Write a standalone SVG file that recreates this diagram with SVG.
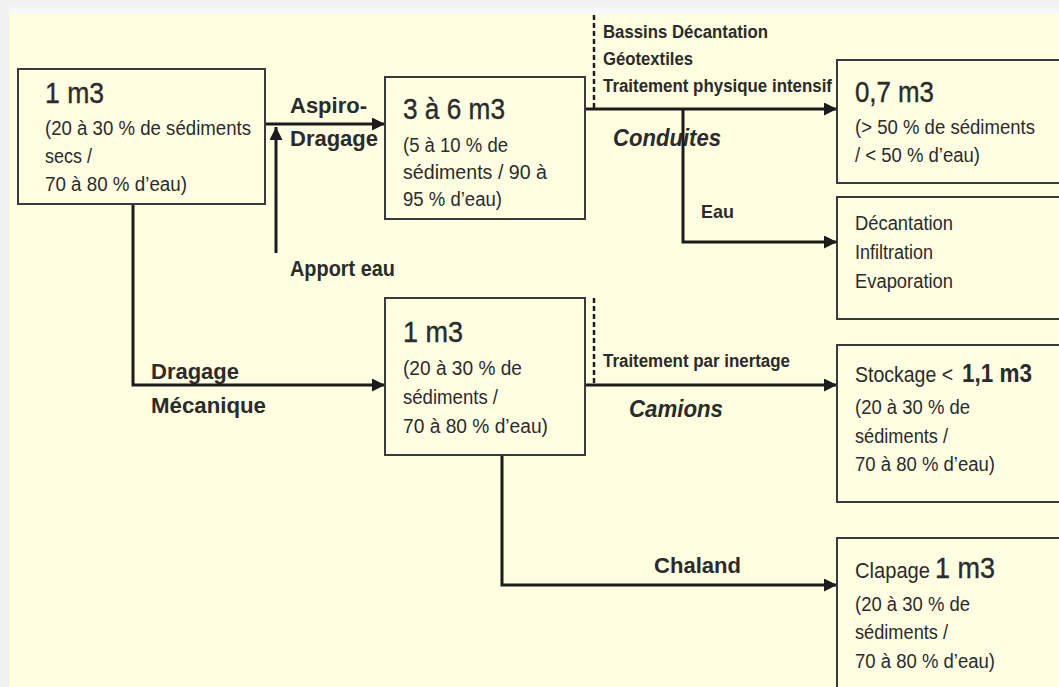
<svg xmlns="http://www.w3.org/2000/svg" width="1059" height="687" viewBox="0 0 1059 687">
<defs>
<style>
.bg{fill:#FFFEE0}
.box{fill:#FFFEE2;stroke:#3a3a3a;stroke-width:2}
.t{font-family:"Liberation Sans",Arial,sans-serif;fill:#2b2b2b}
.big{font-size:30px;stroke:#2b2b2b;stroke-width:0.4}
.sm{font-size:19.5px}
.lb{font-weight:bold;font-size:22px}
.lbs{font-weight:bold;font-size:18px}
.it{font-weight:bold;font-style:italic;font-size:23px}
.ln{fill:none;stroke:#1c1c1c;stroke-width:3}
.dash{fill:none;stroke:#1c1c1c;stroke-width:2.5;stroke-dasharray:5 3}
</style>
<marker id="ah" markerUnits="userSpaceOnUse" markerWidth="14" markerHeight="14" refX="13" refY="6.5" orient="auto">
<path d="M0,0 L13,6.5 L0,13 z" fill="#1c1c1c"/>
</marker>
<linearGradient id="topg" x1="0" y1="0" x2="0" y2="1">
<stop offset="0" stop-color="#f0f0f0"/>
<stop offset="1" stop-color="#fafafa"/>
</linearGradient>
</defs>
<rect x="0" y="0" width="1059" height="687" class="bg"/>
<rect x="0" y="0" width="1059" height="14" fill="url(#topg)"/>
<rect x="0" y="0" width="9" height="687" fill="#f1f1f1"/>

<g id="connectors">
<text class="t it" x="613" y="146" textLength="108" lengthAdjust="spacingAndGlyphs">Conduites</text>
<text class="t lb" x="151" y="379" textLength="88" lengthAdjust="spacingAndGlyphs">Dragage</text>
<line class="dash" x1="594" y1="15" x2="594" y2="108"/>
<line class="dash" x1="594" y1="298" x2="594" y2="384"/>
<path class="ln" d="M265,124 H385" marker-end="url(#ah)"/>
<path class="ln" d="M276,253 V127" marker-end="url(#ah)"/>
<path class="ln" d="M585,109 H837" marker-end="url(#ah)"/>
<path class="ln" d="M683,109 V242 H837" marker-end="url(#ah)"/>
<path class="ln" d="M133,204 V385 H385" marker-end="url(#ah)"/>
<path class="ln" d="M585,385 H837" marker-end="url(#ah)"/>
<path class="ln" d="M502,455 V585 H837" marker-end="url(#ah)"/>
<text class="t lb" x="290" y="113" textLength="77" lengthAdjust="spacingAndGlyphs">Aspiro-</text>
<text class="t lb" x="290" y="146" textLength="88" lengthAdjust="spacingAndGlyphs">Dragage</text>
<text class="t lb" x="290" y="276" textLength="105" lengthAdjust="spacingAndGlyphs">Apport eau</text>
<text class="t lb" x="151" y="413" textLength="115" lengthAdjust="spacingAndGlyphs">Mécanique</text>
<text class="t lbs" x="603" y="38" textLength="165" lengthAdjust="spacingAndGlyphs">Bassins Décantation</text>
<text class="t lbs" x="603" y="65" textLength="90" lengthAdjust="spacingAndGlyphs">Géotextiles</text>
<text class="t lbs" x="603" y="92" textLength="229" lengthAdjust="spacingAndGlyphs">Traitement physique intensif</text>
<text class="t lb" x="701" y="218" textLength="33" lengthAdjust="spacingAndGlyphs" style="font-size:19px">Eau</text>
<text class="t lbs" x="603" y="367" textLength="187" lengthAdjust="spacingAndGlyphs">Traitement par inertage</text>
<text class="t it" x="629" y="417" textLength="94" lengthAdjust="spacingAndGlyphs">Camions</text>
<text class="t lb" x="654" y="573" textLength="87" lengthAdjust="spacingAndGlyphs">Chaland</text>
</g>

<g id="node-source">
<rect class="box" x="18" y="69" width="247" height="135"/>
<text class="t big" x="45" y="103" textLength="59" lengthAdjust="spacingAndGlyphs">1 m3</text>
<text class="t sm" x="45" y="135" textLength="206" lengthAdjust="spacingAndGlyphs">(20 à 30 % de sédiments</text>
<text class="t sm" x="45" y="163" textLength="47" lengthAdjust="spacingAndGlyphs">secs /</text>
<text class="t sm" x="45" y="191" textLength="142" lengthAdjust="spacingAndGlyphs">70 à 80 % d’eau)</text>
</g>

<g id="node-aspiro">
<rect class="box" x="385" y="77" width="200" height="142"/>
<text class="t big" x="403" y="119" textLength="102" lengthAdjust="spacingAndGlyphs">3 à 6 m3</text>
<text class="t sm" x="403" y="152" textLength="105" lengthAdjust="spacingAndGlyphs">(5 à 10 % de</text>
<text class="t sm" x="403" y="179" textLength="144" lengthAdjust="spacingAndGlyphs">sédiments / 90 à</text>
<text class="t sm" x="403" y="206" textLength="99" lengthAdjust="spacingAndGlyphs">95 % d’eau)</text>
</g>

<g id="node-07">
<rect class="box" x="837" y="60" width="240" height="123"/>
<text class="t big" x="855" y="102" textLength="79" lengthAdjust="spacingAndGlyphs">0,7 m3</text>
<text class="t sm" x="855" y="134" textLength="180" lengthAdjust="spacingAndGlyphs">(&gt; 50 % de sédiments</text>
<text class="t sm" x="855" y="162" textLength="125" lengthAdjust="spacingAndGlyphs">/ &lt; 50 % d’eau)</text>
</g>

<g id="node-eau">
<rect class="box" x="837" y="197" width="240" height="122"/>
<text class="t sm" x="855" y="230" textLength="98" lengthAdjust="spacingAndGlyphs">Décantation</text>
<text class="t sm" x="855" y="259" textLength="78" lengthAdjust="spacingAndGlyphs">Infiltration</text>
<text class="t sm" x="855" y="288" textLength="98" lengthAdjust="spacingAndGlyphs">Evaporation</text>
</g>

<g id="node-meca">
<rect class="box" x="385" y="298" width="200" height="157"/>
<text class="t big" x="403" y="342" textLength="60" lengthAdjust="spacingAndGlyphs">1 m3</text>
<text class="t sm" x="403" y="375" textLength="119" lengthAdjust="spacingAndGlyphs">(20 à 30 % de</text>
<text class="t sm" x="403" y="404" textLength="95" lengthAdjust="spacingAndGlyphs">sédiments /</text>
<text class="t sm" x="403" y="433" textLength="145" lengthAdjust="spacingAndGlyphs">70 à 80 % d’eau)</text>
</g>

<g id="node-stockage">
<rect class="box" x="837" y="345" width="240" height="157"/>
<text class="t" x="855" y="382" style="font-size:22px" textLength="98" lengthAdjust="spacingAndGlyphs">Stockage &lt;</text>
<text class="t" x="962" y="382" style="font-size:26px;font-weight:bold" textLength="70" lengthAdjust="spacingAndGlyphs">1,1 m3</text>
<text class="t sm" x="855" y="414" textLength="115" lengthAdjust="spacingAndGlyphs">(20 à 30 % de</text>
<text class="t sm" x="855" y="443" textLength="93" lengthAdjust="spacingAndGlyphs">sédiments /</text>
<text class="t sm" x="855" y="471" textLength="140" lengthAdjust="spacingAndGlyphs">70 à 80 % d’eau)</text>
</g>

<g id="node-clapage">
<rect class="box" x="837" y="538" width="240" height="160"/>
<text class="t" x="855" y="578" style="font-size:22px" textLength="75" lengthAdjust="spacingAndGlyphs">Clapage</text>
<text class="t big" x="935" y="578" textLength="60" lengthAdjust="spacingAndGlyphs">1 m3</text>
<text class="t sm" x="855" y="611" textLength="115" lengthAdjust="spacingAndGlyphs">(20 à 30 % de</text>
<text class="t sm" x="855" y="639" textLength="93" lengthAdjust="spacingAndGlyphs">sédiments /</text>
<text class="t sm" x="855" y="668" textLength="140" lengthAdjust="spacingAndGlyphs">70 à 80 % d’eau)</text>
</g>
</svg>
